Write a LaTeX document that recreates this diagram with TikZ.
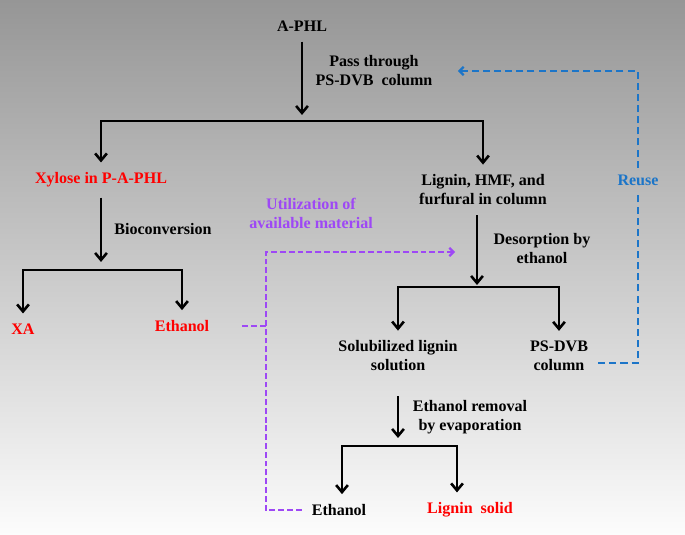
\documentclass[tikz,border=0pt]{standalone}
\usepackage{fontspec}
\setmainfont{Liberation Serif}
\usetikzlibrary{arrows.meta}

\definecolor{reuseblue}{RGB}{28,117,200}
\definecolor{utilpurple}{RGB}{158,72,245}
\definecolor{bgtop}{RGB}{150,150,150}
\definecolor{bgmid}{RGB}{210,210,210}
\definecolor{bgbot}{RGB}{252,252,252}

\begin{document}
\begin{tikzpicture}[
  font=\bfseries\fontsize{13.7pt}{16.2pt}\selectfont,
  txt/.style={align=center,inner sep=0.3cm},
  prod/.style={txt,text=red},
  lbl/.style={align=center,inner sep=2pt},
  arr/.style={-{Straight Barb[length=6pt,width=10pt]},line width=2.2pt,black},
  dsh/.style={line width=1.9pt,-{Straight Barb[length=3.5pt,width=7pt]}},
  reuse/.style={dsh,reuseblue,dash pattern=on 6pt off 3.5pt},
  util/.style={dsh,utilpurple,dash pattern=on 5pt off 2.5pt}
]
\useasboundingbox (0,0) rectangle (20.55,16.05);
\shade[top color=bgtop,middle color=bgmid,bottom color=bgbot] (0,0) rectangle (20.55,16.05);

%% ================= column step =================
\node[txt]  (aphl) at ( 9.06,15.27) {A-PHL};
\node[lbl]  (pass) at (11.22,13.92) {Pass through\\PS-DVB~~column};
\node[prod] (xyl)  at ( 3.03,10.65) {Xylose in P-A-PHL};
\node[txt]  (lig)  at (14.49,10.35) {Lignin, HMF, and\\furfural in column};
\coordinate (j1) at (9.06,12.42);
\draw[arr,shorten >=0.18cm] (aphl) -- (j1);
\draw[arr] (j1) -| (xyl);
\draw[arr] (j1) -| (lig);

%% ================= bioconversion =================
\node[lbl]  (bio)  at ( 4.89, 9.18) {Bioconversion};
\node[prod] (xa)   at ( 0.69, 6.18) {XA};
\node[prod] (eth1) at ( 5.46, 6.27) {Ethanol};
\coordinate (j2) at (3.03,7.95);
\draw[arr,shorten >=0.24cm] (xyl) -- (j2);
\draw[arr] (j2) -| (xa);
\draw[arr] (j2) -| (eth1);

%% ================= desorption =================
\node[lbl]  (desorp) at (16.26, 8.58) {Desorption by\\ethanol};
\node[txt]  (sol)  at (11.94, 5.37) {Solubilized lignin\\solution};
\node[txt]  (ps)   at (16.77, 5.37) {PS-DVB\\column};
\coordinate (j3) at (14.31,7.44);
\draw[arr,shorten >=0.06cm] (lig.south -| j3) -- (j3);
\draw[arr] (j3) -| (sol);
\draw[arr] (j3) -| (ps);

%% ================= evaporation =================
\node[lbl]  (evap) at (14.10, 3.54) {Ethanol removal\\by evaporation};
\node[txt]  (eth2) at (10.17, 0.75) {Ethanol};
\node[prod] (lsol) at (14.10, 0.75) {Lignin~~solid};
\coordinate (j4) at (11.94,2.67);
\draw[arr,shorten <=0.45cm,shorten >=0.24cm] (sol) -- (j4);
\draw[arr] (j4) -| ([xshift=0.09cm]eth2.north);
\draw[arr] (j4) -| ([xshift=-0.39cm]lsol.north);

%% ================= reuse of the column =================
\node[lbl,inner sep=0.2cm,text=reuseblue] (reuse) at (19.14,10.65) {Reuse};
\draw[reuse,-] ([yshift=-0.21cm]ps.east) -| (reuse.south);
\draw[reuse,shorten >=0.69cm] (reuse.north) |- (pass.east);

%% ================= ethanol recycled =================
\node[lbl,text=utilpurple] (util) at (9.33, 9.66) {Utilization of\\available material};
\coordinate (ucorner) at (7.98,8.49);
\draw[util,shorten >=0.66cm] (eth2.west) -| (ucorner) -- (ucorner -| j3);
\draw[util,-,shorten <=0.69cm] (eth1.east) -- (eth1.east -| ucorner);

\end{tikzpicture}
\end{document}
